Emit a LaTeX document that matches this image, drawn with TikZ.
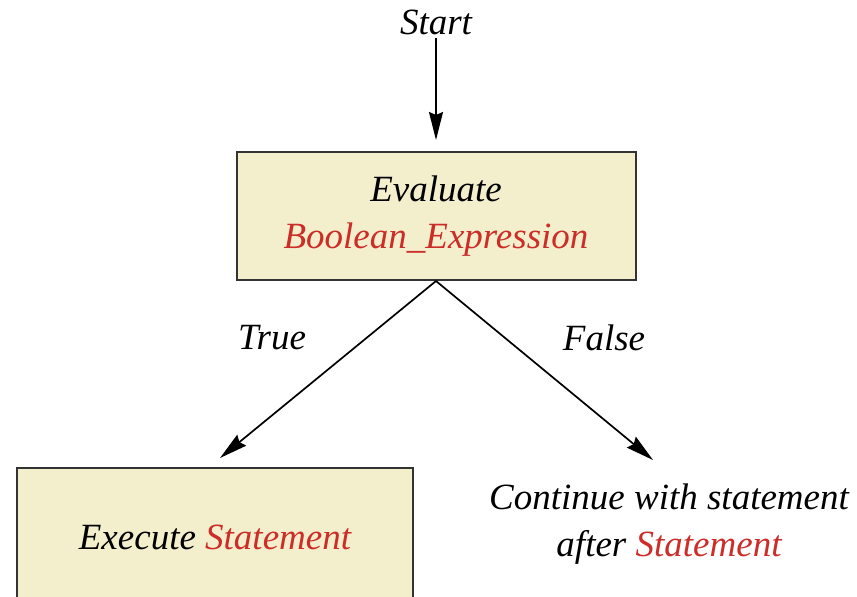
\documentclass[tikz,border=0pt]{standalone}
\usepackage{fontspec}
\setmainfont{Liberation Serif}
\usetikzlibrary{calc}
\usetikzlibrary{arrows.meta}
\definecolor{boxfill}{RGB}{243,238,204}
\definecolor{kwred}{RGB}{204,45,40}

\begin{document}
\begin{tikzpicture}[x=1pt, y=-1pt, font=\fontsize{37}{47}\selectfont\itshape]
        \useasboundingbox (0,0) rectangle (857,597);
        \clip (0,0) rectangle (857,597);
        \coordinate (origin) at (0, 0);

        \node (start) at ($(origin) + (436, 22)$) {Start};

        \node (eval) [draw=black!80, line width=2pt, fill=boxfill, align=center,
            minimum width=399pt, minimum height=128pt] at ($(origin) + (436, 216)$)
            {Evaluate\\\textcolor{kwred}{Boolean\_Expression}};
        \draw [line width=1.7pt, -{Stealth[length=28pt, width=14pt, inset=3pt]}, shorten >=11pt]
            (start) -- (eval);

        \node (exec) [draw=black!80, line width=2pt, fill=boxfill,
            minimum width=396pt, minimum height=138pt] at ($(origin) + (215, 537)$)
            {Execute \textcolor{kwred}{Statement}};

        \node (cont) [align=center] at ($(origin) + (669, 524)$)
            {Continue with statement\\after \textcolor{kwred}{Statement}};

        \coordinate (truetip) at ($(origin) + (220, 458)$);
        \coordinate (falsetip) at ($(origin) + (653, 460)$);

        \draw [line width=1.7pt, -{Stealth[length=28pt, width=14pt, inset=3pt]}]
            (eval.south) -- (truetip);
        \draw [line width=1.7pt, -{Stealth[length=28pt, width=14pt, inset=3pt]}]
            (eval.south) -- (falsetip);

        \node (truelab) at ($(origin) + (272, 338)$) {True};
        \node (falselab) at ($(origin) + (604, 338)$) {False};
      \end{tikzpicture}
\end{document}
